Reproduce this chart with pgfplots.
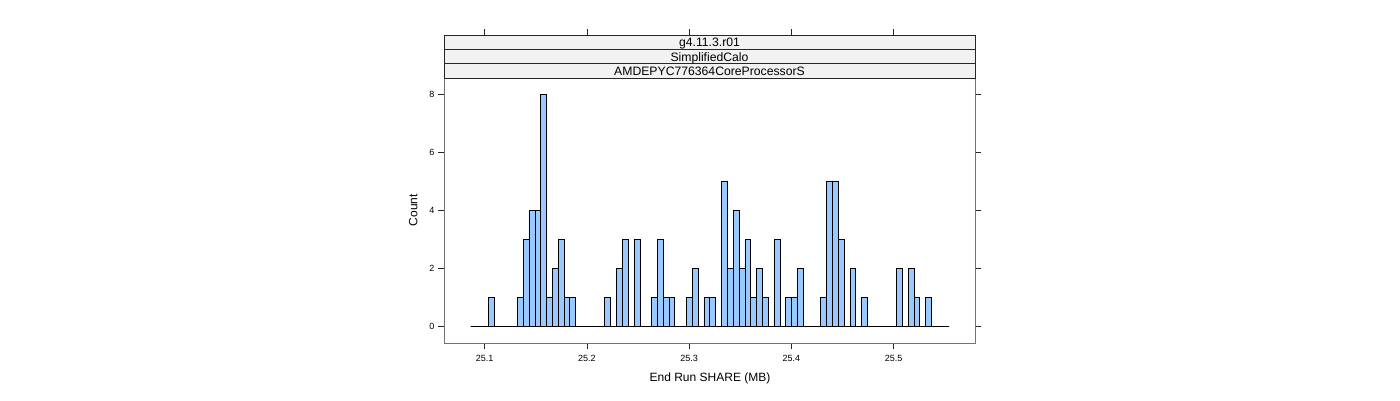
\documentclass[border=0pt]{standalone}
\usepackage{pgfplots}
\pgfplotsset{compat=1.18}
\usepackage{fontspec}
\setmainfont{Liberation Sans}
\definecolor{barfill}{HTML}{99C9FF}
\definecolor{stripbg}{HTML}{F2F2F2}
\begin{document}
\begin{tikzpicture}
\path (0pt,0pt) rectangle (1400pt,400pt);
\begin{axis}[
  at={(444pt,57pt)}, anchor=south west,
  scale only axis, width=531pt, height=265pt,
  xmin=25.0603, xmax=25.5796, ymin=-0.56, ymax=8.56,
  xtick={25.1,25.2,25.3,25.4,25.5},
  ytick={0,2,4,6,8},
  xtick pos=bottom, ytick pos=both, yticklabel pos=left,
  tick align=outside, major tick length=6pt,
  tick style={black!85, line width=0.6pt},
  axis line style={black!55, line width=0.8pt},
  tick label style={font=\fontsize{9}{10}\selectfont},
  /pgf/number format/assume math mode=true,
  xticklabel style={/pgf/number format/fixed, /pgf/number format/precision=1, yshift=-3pt},
]
\addplot[ybar interval, fill=barfill, draw=black, line width=0.6pt] coordinates {
(25.0863,0) (25.0920,0) (25.0977,0) (25.1034,1) (25.1091,0)
(25.1148,0) (25.1205,0) (25.1262,0) (25.1319,1) (25.1376,3)
(25.1434,4) (25.1491,4) (25.1548,8) (25.1605,1) (25.1662,2)
(25.1719,3) (25.1776,1) (25.1833,1) (25.1890,0) (25.1947,0)
(25.2004,0) (25.2061,0) (25.2118,0) (25.2175,1) (25.2232,0)
(25.2290,2) (25.2347,3) (25.2404,0) (25.2461,3) (25.2518,0)
(25.2575,0) (25.2632,1) (25.2689,3) (25.2746,1) (25.2803,1)
(25.2860,0) (25.2917,0) (25.2974,1) (25.3031,2) (25.3088,0)
(25.3145,1) (25.3202,1) (25.3259,0) (25.3317,5) (25.3374,2)
(25.3431,4) (25.3488,2) (25.3545,3) (25.3602,1) (25.3659,2)
(25.3716,1) (25.3773,0) (25.3830,3) (25.3887,0) (25.3944,1)
(25.4001,1) (25.4058,2) (25.4115,0) (25.4172,0) (25.4229,0)
(25.4287,1) (25.4344,5) (25.4401,5) (25.4458,3) (25.4515,0)
(25.4572,2) (25.4629,0) (25.4686,1) (25.4743,0) (25.4800,0)
(25.4857,0) (25.4914,0) (25.4971,0) (25.5028,2) (25.5085,0)
(25.5142,2) (25.5199,1) (25.5256,0) (25.5313,1) (25.5370,0)
(25.5428,0) (25.5485,0) (25.5542,0)
};
\end{axis}
% top ticks (above the strips)
\foreach \tx in {484.6,586.8,689.1,791.4,893.6}{
  \draw[black!85, line width=0.6pt] (\tx pt,365pt) -- (\tx pt,371pt);
}
% strips
\foreach \yb/\txt in {322/AMDEPYC776364CoreProcessorS, 336.33/SimplifiedCalo, 350.67/g4.11.3.r01}{
  \draw[fill=stripbg, draw=black!85, line width=0.7pt] (444pt,\yb pt) rectangle (975pt,\yb pt+14.33pt);
  \node[font=\fontsize{12.2}{13}\selectfont, inner sep=0pt, anchor=base] at (709.5pt,\yb pt+2.6pt) {\txt};
}
\node[font=\fontsize{12}{13}\selectfont] at (710pt,21.7pt) {End Run SHARE (MB)};
\node[font=\fontsize{12}{13}\selectfont, rotate=90] at (413.3pt,190pt) {Count};
\end{tikzpicture}
\end{document}
